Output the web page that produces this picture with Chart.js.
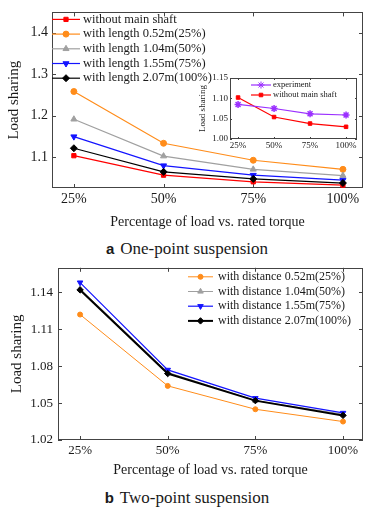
<!DOCTYPE html>
<html>
<head>
<meta charset="utf-8">
<script src="https://cdn.jsdelivr.net/npm/chart.js@4.4.1/dist/chart.umd.min.js"></script>
<style>
  html, body { margin: 0; padding: 0; background: #fff; }
  #wrap { position: relative; width: 374px; height: 509px; overflow: hidden; }
  .box { position: absolute; }
  .cap { position: absolute; left: 0; width: 374px; text-align: center; white-space: nowrap;
         font-family: "Liberation Serif", serif; font-size: 17px; line-height: 20px; color: #1a1a1a; }
  .cap b { font-family: "Liberation Sans", Arial, sans-serif; font-size: 15px; margin-right: 6px; }
</style>
</head>
<body>
<div id="wrap">
  <div class="box" style="left:0;top:0;width:374px;height:236px"><canvas id="topChart"></canvas></div>
  <div class="box" style="left:195px;top:70px;width:170px;height:85px"><canvas id="insetChart"></canvas></div>
  <div class="cap" style="top:239px"><b>a</b>One-point suspension</div>
  <div class="box" style="left:0;top:255px;width:374px;height:225px"><canvas id="bottomChart"></canvas></div>
  <div class="cap" style="top:488px"><b>b</b>Two-point suspension</div>
</div>
<script>
// x positions and their tick labels
const loadLevels = [25, 50, 75, 100];
const loadLabels = ['25%', '50%', '75%', '100%'];

// (a) one-point suspension
const onePointNames = ['without main shaft', 'with length 0.52m(25%)', 'with length 1.04m(50%)',
                       'with length 1.55m(75%)', 'with length 2.07m(100%)'];
const noShaft = [1.103, 1.056, 1.040, 1.032];
const len052 = [1.258, 1.133, 1.092, 1.070];
const len104 = [1.191, 1.102, 1.070, 1.055];
const len155 = [1.149, 1.079, 1.056, 1.044];
const len207 = [1.121, 1.064, 1.047, 1.037];
const onePointTicks = [1.1, 1.2, 1.3, 1.4];

// inset: experiment vs model
const insetNames = ['experiment', 'without main shaft'];
const experiment = [1.085, 1.075, 1.062, 1.059];
const insetNoShaft = [1.102, 1.054, 1.038, 1.030];
const insetTicks = [1.00, 1.05, 1.10, 1.15];

// (b) two-point suspension
const twoPointNames = ['with distance 0.52m(25%)', 'with distance 1.04m(50%)',
                       'with distance 1.55m(75%)', 'with distance 2.07m(100%)'];
const dist052 = [1.122, 1.064, 1.045, 1.035];
const dist104 = [1.143, 1.075, 1.052, 1.041];
const dist155 = [1.148, 1.077, 1.054, 1.042];
const dist207 = [1.142, 1.074, 1.052, 1.040];
const twoPointTicks = [1.02, 1.05, 1.08, 1.11, 1.14];

const SERIF = '"Liberation Serif", "Times New Roman", serif';
Chart.defaults.font.family = SERIF;
Chart.defaults.color = '#1a1a1a';

const toPts = vals => vals.map((v, i) => ({ x: loadLevels[i], y: v }));

// box around the plot with inward tick marks on all four sides
const framePlugin = {
    id: 'frame',
    beforeDatasetsDraw(chart, args, opts) {
        const { ctx, chartArea: a, scales: { x, y } } = chart;
        const len = opts.tickLength || 4;
        ctx.save();
        ctx.strokeStyle = opts.color || '#444';
        ctx.lineWidth = 1;
        ctx.strokeRect(Math.round(a.left) + 0.5, Math.round(a.top) + 0.5,
                       Math.round(a.right - a.left) - 1, Math.round(a.bottom - a.top) - 1);
        ctx.beginPath();
        x.ticks.forEach(t => {
            const px = Math.round(x.getPixelForValue(t.value)) + 0.5;
            ctx.moveTo(px, a.bottom); ctx.lineTo(px, a.bottom - len);
            ctx.moveTo(px, a.top); ctx.lineTo(px, a.top + len);
        });
        y.ticks.forEach(t => {
            const py = Math.round(y.getPixelForValue(t.value)) + 0.5;
            ctx.moveTo(a.left, py); ctx.lineTo(a.left + len, py);
            ctx.moveTo(a.right, py); ctx.lineTo(a.right - len, py);
        });
        ctx.stroke();
        ctx.restore();
    }
};

// legend drawn inside the plot, Origin style
const keyPlugin = {
    id: 'key',
    afterDraw(chart, args, opts) {
        if (!opts.step) return;
        const { ctx, chartArea: a } = chart;
        const sets = chart.data.datasets;
        ctx.save();
        // symbols first
        sets.forEach((ds, i) => {
            const y = a.top + opts.y + i * opts.step;
            const x0 = a.left + opts.x;
            ctx.strokeStyle = ds.borderColor;
            ctx.fillStyle = ds.borderColor;
            ctx.lineWidth = ds.borderWidth;
            ctx.beginPath();
            ctx.moveTo(x0, y);
            ctx.lineTo(x0 + opts.len, y);
            ctx.stroke();
            ctx.lineWidth = 1;
            Chart.helpers.drawPoint(ctx, {
                pointStyle: ds.pointStyle, rotation: ds.pointRotation || 0,
                radius: ds.pointRadius, borderWidth: 1
            }, x0 + opts.len / 2, y);
        });
        // then the labels, bottom row first
        ctx.font = 'normal ' + opts.fontSize + 'px ' + SERIF;
        ctx.textBaseline = 'middle';
        ctx.textAlign = 'left';
        ctx.fillStyle = '#1a1a1a';
        for (let i = sets.length - 1; i >= 0; i--) {
            const y = a.top + opts.y + i * opts.step;
            ctx.fillText(sets[i].label, a.left + opts.x + opts.len + opts.gap, y);
        }
        ctx.restore();
    }
};

Chart.register(framePlugin, keyPlugin);

function series(label, vals, color, style, opts = {}) {
    return Object.assign({
        label: label,
        data: toPts(vals),
        borderColor: color,
        backgroundColor: color,
        pointBackgroundColor: color,
        pointBorderColor: color,
        borderWidth: 1.2,
        pointStyle: style,
        pointRadius: 3,
        pointBorderWidth: 1
    }, opts);
}

function makeOptions(cfg) {
    return {
        responsive: true,
        maintainAspectRatio: false,
        animation: false,
        events: [],
        layout: { padding: cfg.padding },
        plugins: {
            legend: { display: false },
            tooltip: { enabled: false },
            frame: { tickLength: cfg.tickLength },
            key: cfg.key
        },
        scales: {
            x: {
                type: 'linear',
                min: cfg.xMin,
                max: cfg.xMax,
                afterBuildTicks: s => { s.ticks = loadLevels.map(v => ({ value: v })); },
                afterFit: s => { s.height = cfg.xHeight; },
                grid: { display: false, drawTicks: false },
                border: { display: false },
                ticks: {
                    padding: cfg.xTickPad,
                    maxRotation: 0,
                    font: { size: cfg.tickSize },
                    callback: v => loadLabels[loadLevels.indexOf(v)]
                },
                title: cfg.xTitle ? {
                    display: true,
                    text: cfg.xTitle,
                    font: { size: 14 },
                    padding: { top: 0, bottom: cfg.xTitlePad }
                } : { display: false }
            },
            y: {
                min: cfg.yMin,
                max: cfg.yMax,
                afterBuildTicks: s => { s.ticks = cfg.yTicks.map(v => ({ value: v })); },
                afterFit: s => { s.width = cfg.yWidth; },
                grid: { display: false, drawTicks: false },
                border: { display: false },
                ticks: {
                    padding: cfg.yTickPad,
                    font: { size: cfg.tickSize },
                    callback: v => v.toFixed(cfg.yDigits)
                },
                title: {
                    display: true,
                    text: 'Load sharing',
                    font: { size: cfg.yTitleSize },
                    padding: { top: cfg.yTitlePad, bottom: 0 }
                }
            }
        }
    };
}

const charts = [];

const top5 = [noShaft, len052, len104, len155, len207];
const topColors = ['#ff0000', '#ff8c1a', '#a0a0a0', '#1414ff', '#000000'];
const topStyles = ['rect', 'circle', 'triangle', 'triangle', 'rectRot'];
charts.push(new Chart(document.getElementById('topChart'), {
    type: 'line',
    data: {
        datasets: top5.map((vals, i) => series(onePointNames[i], vals, topColors[i], topStyles[i], {
            order: top5.length - i,
            pointRotation: i === 3 ? 180 : 0,
            pointRadius: topStyles[i] === 'triangle' || topStyles[i] === 'rectRot' ? 3.5 : 3
        }))
    },
    options: makeOptions({
        padding: { top: 7, right: 11, left: 0, bottom: 0 },
        xMin: 18.9, xMax: 105.6, xHeight: 48, xTickPad: 3, xTitle: 'Percentage of load vs. rated torque', xTitlePad: 5.6,
        yMin: 1.025, yMax: 1.449, yTicks: onePointTicks, yWidth: 52, yTickPad: 4, yDigits: 1,
        yTitleSize: 15, yTitlePad: 5, tickSize: 14, tickLength: 4,
        key: { x: 0, y: 7, step: 14.7, len: 28, gap: 3, fontSize: 12.5 }
    })
}));

charts.push(new Chart(document.getElementById('insetChart'), {
    type: 'line',
    data: {
        datasets: [
            series(insetNames[0], experiment, '#9b30ff', 'star', { pointRadius: 3.5, pointBorderWidth: 1.5 }),
            series(insetNames[1], insetNoShaft, '#ff0000', 'rect', { pointRadius: 2.5 })
        ]
    },
    options: makeOptions({
        padding: { top: 8, right: 8, left: 0, bottom: 0 },
        xMin: 19.4, xMax: 107.6, xHeight: 16, xTickPad: 1, xTitle: null,
        yMin: 1.0, yMax: 1.15, yTicks: insetTicks, yWidth: 35, yTickPad: 2, yDigits: 2,
        yTitleSize: 9, yTitlePad: 2.6, tickSize: 9, tickLength: 2,
        key: { x: 21, y: 7, step: 10, len: 20, gap: 2, fontSize: 8.5 }
    })
}));

const bottom4 = [dist052, dist104, dist155, dist207];
const bottomColors = ['#ff8c1a', '#a0a0a0', '#1414ff', '#000000'];
const bottomStyles = ['circle', 'triangle', 'triangle', 'rectRot'];
const bottomWidths = [1, 1, 1.2, 2];
charts.push(new Chart(document.getElementById('bottomChart'), {
    type: 'line',
    data: {
        datasets: bottom4.map((vals, i) => series(twoPointNames[i], vals, bottomColors[i], bottomStyles[i], {
            order: bottom4.length - i,
            borderWidth: bottomWidths[i],
            pointRotation: i === 2 ? 180 : 0,
            pointRadius: i === 0 ? 2.5 : 3.2
        }))
    },
    options: makeOptions({
        padding: { top: 9, right: 11, left: 0, bottom: 0 },
        xMin: 18.7, xMax: 105.7, xHeight: 40, xTickPad: 3, xTitle: 'Percentage of load vs. rated torque', xTitlePad: 1.6,
        yMin: 1.02, yMax: 1.16, yTicks: twoPointTicks, yWidth: 58, yTickPad: 5, yDigits: 2,
        yTitleSize: 15, yTitlePad: 8, tickSize: 13, tickLength: 4,
        key: { x: 130, y: 9, step: 14.7, len: 25, gap: 5, fontSize: 12 }
    })
}));

// redraw once the serif face is surely available to the canvas
if (document.fonts) {
    document.fonts.load('12px "Liberation Serif"').then(() => charts.forEach(c => c.draw()));
}
</script>
</body>
</html>
